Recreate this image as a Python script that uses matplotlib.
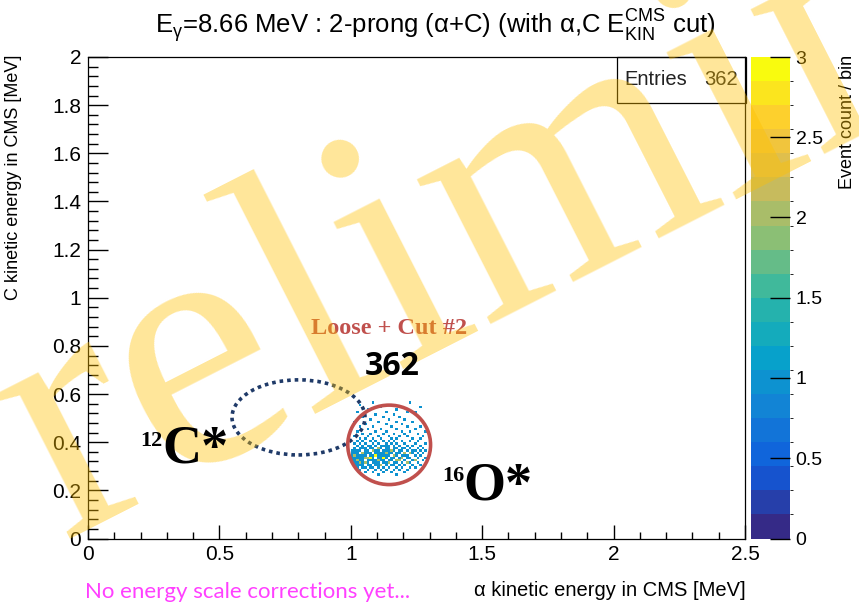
import numpy as np
import matplotlib.pyplot as plt
from matplotlib import font_manager
from matplotlib.colors import LinearSegmentedColormap, BoundaryNorm
from matplotlib.patches import Ellipse, Rectangle
from matplotlib.ticker import MultipleLocator, FuncFormatter

# occupied 10 keV x 10 keV bins, one event each: C energy row -> alpha energies
row_y = [0.56, 0.55, 0.54, 0.53, 0.52, 0.51, 0.50, 0.49, 0.48, 0.47, 0.46,
         0.45, 0.44, 0.43, 0.42, 0.41, 0.40, 0.39, 0.38, 0.37, 0.36, 0.35,
         0.34, 0.33, 0.32, 0.31, 0.30, 0.29, 0.28, 0.27, 0.26]
row_x = [
    [1.08, 1.22],
    [1.03, 1.15],
    [1.11, 1.19, 1.26],
    [1.06, 1.17],
    [1.02, 1.13, 1.21, 1.24],
    [1.09, 1.16],
    [1.04, 1.12, 1.18, 1.25],
    [1.07, 1.14, 1.20],
    [1.01, 1.10, 1.17, 1.23, 1.27],
    [1.05, 1.13, 1.19],
    [1.03, 1.08, 1.15, 1.21, 1.26],
    [1.06, 1.11, 1.17, 1.24],
    [1.02, 1.09, 1.13, 1.19, 1.22, 1.28],
    [1.04, 1.07, 1.12, 1.16, 1.20, 1.25],
    [1.01, 1.06, 1.10, 1.14, 1.18, 1.21, 1.27],
    [1.03, 1.05, 1.08, 1.11, 1.15, 1.17, 1.23, 1.26],
    [1.02, 1.04, 1.07, 1.09, 1.12, 1.14, 1.16, 1.19, 1.22, 1.25],
    [1.01, 1.03, 1.05, 1.08, 1.10, 1.13, 1.15, 1.17, 1.20, 1.24, 1.28],
    [1.02, 1.04, 1.06, 1.07, 1.09, 1.11, 1.12, 1.14, 1.16, 1.18, 1.21, 1.23, 1.26],
    [1.01, 1.03, 1.04, 1.05, 1.07, 1.08, 1.10, 1.11, 1.13, 1.14, 1.16, 1.17,
     1.19, 1.20, 1.22, 1.25, 1.27],
    [1.00, 1.01, 1.02, 1.03, 1.05, 1.06, 1.08, 1.09, 1.10, 1.12, 1.13, 1.15,
     1.16, 1.18, 1.19, 1.21, 1.23, 1.24, 1.26, 1.28],
    [1.00, 1.01, 1.02, 1.04, 1.05, 1.06, 1.07, 1.09, 1.10, 1.11, 1.12, 1.13,
     1.14, 1.15, 1.17, 1.18, 1.20, 1.22, 1.23, 1.25, 1.27],
    [1.00, 1.01, 1.02, 1.03, 1.04, 1.05, 1.07, 1.08, 1.09, 1.10, 1.11, 1.12,
     1.13, 1.14, 1.16, 1.17, 1.19, 1.20, 1.21, 1.24, 1.26],
    [1.00, 1.01, 1.02, 1.03, 1.04, 1.05, 1.06, 1.07, 1.08, 1.10, 1.11, 1.12,
     1.13, 1.15, 1.16, 1.18, 1.19, 1.21, 1.22, 1.25, 1.28],
    [1.00, 1.01, 1.02, 1.03, 1.04, 1.06, 1.07, 1.08, 1.09, 1.10, 1.11, 1.12,
     1.14, 1.15, 1.17, 1.18, 1.20, 1.23, 1.24, 1.27],
    [1.00, 1.01, 1.02, 1.03, 1.04, 1.05, 1.06, 1.08, 1.09, 1.10, 1.12, 1.13,
     1.14, 1.16, 1.17, 1.19, 1.21, 1.22, 1.25],
    [1.01, 1.02, 1.03, 1.04, 1.06, 1.07, 1.09, 1.10, 1.11, 1.13, 1.15, 1.16,
     1.18, 1.20, 1.23, 1.26],
    [1.02, 1.04, 1.05, 1.07, 1.08, 1.10, 1.12, 1.14, 1.17, 1.19, 1.22, 1.24],
    [1.03, 1.06, 1.09, 1.11, 1.13, 1.16, 1.18, 1.21],
    [1.05, 1.08, 1.12, 1.15, 1.20],
    [1.10, 1.17],
]
# additional events landing in already filled bins (2-3 counts per bin)
extra_x = [1.05, 1.09, 1.10, 1.12, 1.13, 1.14, 1.16, 1.02, 1.04, 1.08, 1.11,
           1.17, 1.19, 1.03, 1.06, 1.10, 1.15, 1.20, 1.21, 1.01, 1.13, 1.24,
           1.07, 1.07, 1.12, 1.09, 1.18, 1.05, 1.14, 1.22]
extra_y = [0.33, 0.34, 0.32, 0.33, 0.35, 0.31, 0.34, 0.32, 0.35, 0.36, 0.30,
           0.32, 0.33, 0.31, 0.33, 0.37, 0.36, 0.35, 0.31, 0.34, 0.38, 0.32,
           0.33, 0.33, 0.33, 0.34, 0.32, 0.31, 0.36, 0.35]
n_entries = 362

ev_x = [x + 0.005 for xs in row_x for x in xs] + [x + 0.005 for x in extra_x]
ev_y = [y + 0.005 for y, xs in zip(row_y, row_x) for _ in xs] + [y + 0.005 for y in extra_y]

# ROOT kBird palette
bird_stops = [0.0, 0.125, 0.25, 0.375, 0.5, 0.625, 0.75, 0.875, 1.0]
bird_r = [0.2082, 0.0592, 0.0780, 0.0232, 0.1802, 0.5301, 0.8186, 0.9956, 0.9764]
bird_g = [0.1664, 0.3599, 0.5041, 0.6419, 0.7178, 0.7492, 0.7328, 0.7862, 0.9832]
bird_b = [0.5293, 0.8684, 0.8385, 0.7914, 0.6425, 0.4662, 0.3499, 0.1968, 0.0539]
bird = LinearSegmentedColormap.from_list(
    'bird', list(zip(bird_stops, zip(bird_r, bird_g, bird_b))))
levels = np.linspace(0, 3, 21)
norm = BoundaryNorm(levels, bird.N)

names = {f.name for f in font_manager.fontManager.ttflist}
narrow = 'Liberation Sans Narrow' if 'Liberation Sans Narrow' in names else 'Liberation Sans'
plt.rcParams['font.family'] = 'Liberation Sans'

W, H = 859, 607
fig = plt.figure(figsize=(W / 100, H / 100), dpi=100)
ax = fig.add_axes([88 / W, 1 - 538.5 / H, (745 - 88) / W, 481.5 / H])
cax = fig.add_axes([751 / W, 1 - 538.5 / H, 39 / W, 481.5 / H])

h = ax.hist2d(ev_x, ev_y, bins=[250, 200], range=[[0, 2.5], [0, 2]],
              cmap=bird, norm=norm, cmin=1)
ax.set_xlim(0, 2.5)
ax.set_ylim(0, 2)

fmt = FuncFormatter(lambda v, p: '%g' % v)
ax.xaxis.set_major_locator(MultipleLocator(0.5))
ax.xaxis.set_minor_locator(MultipleLocator(0.1))
ax.yaxis.set_major_locator(MultipleLocator(0.2))
ax.yaxis.set_minor_locator(MultipleLocator(0.04))
ax.xaxis.set_major_formatter(fmt)
ax.yaxis.set_major_formatter(fmt)
ax.tick_params(axis='x', which='major', direction='in', length=10, width=1, labelsize=15, pad=5)
ax.tick_params(axis='x', which='minor', direction='in', length=5, width=1)
ax.tick_params(axis='y', which='major', direction='in', length=14.5, width=1, labelsize=15, pad=5)
ax.tick_params(axis='y', which='minor', direction='in', length=7, width=1)
for s in ax.spines.values():
    s.set_linewidth(0.9)

cb = fig.colorbar(h[3], cax=cax, ticks=[0, 0.5, 1, 1.5, 2, 2.5, 3], format=fmt)
cb.outline.set_visible(False)
cax.tick_params(direction='in', length=14.5, width=1, labelsize=14, pad=4)

# stats box
ax.add_patch(Rectangle((2.013, 1.81), 0.49, 0.19, fill=False, lw=0.9,
                       edgecolor='black', clip_on=False))
ax.text(2.04, 1.905, 'Entries', fontsize=14.5, color='#222222', va='center')
ax.text(2.473, 1.905, '%d' % n_entries, fontsize=14.5, color='#222222',
        va='center', ha='right')

# titles
fig.text(435 / W, 1 - 33 / H,
         r'E$_\mathregular{γ}$=8.66 MeV : 2-prong (α+C) (with α,C '
         r'E$^\mathregular{CMS}_\mathregular{KIN}$ cut)',
         family=narrow, fontsize=18.5, ha='center', va='baseline')
fig.text(14 / W, 1 - 55 / H, 'C kinetic energy in CMS [MeV]', rotation=90,
         fontsize=13, ha='center', va='top')
fig.text(746 / W, 1 - 590 / H, 'α kinetic energy in CMS [MeV]',
         fontsize=14.5, ha='right', va='center')
fig.text(848 / W, 1 - 55 / H, 'Event count / bin', rotation=90,
         fontsize=13, ha='center', va='top')
fig.text(85 / W, 1 - 592 / H, 'No energy scale corrections yet...',
         family='Lato', fontsize=16, color='#FF40FF', va='center')

# slide annotations
ax.add_patch(Ellipse((0.801, 0.503), 0.506, 0.312, fill=False, lw=2.6,
                     edgecolor='#1F3A68', linestyle=(0, (1, 1.1)), clip_on=False))
ax.add_patch(Ellipse((1.146, 0.389), 0.315, 0.33, fill=False, lw=2.6,
                     edgecolor='#C0504D', clip_on=False))
ax.text(1.145, 0.871, 'Loose + Cut #2', family='Liberation Serif',
        fontweight='bold', fontsize=17.5, color='#C0504D',
        ha='center', va='center')

wm = fig.text(-0.130, -0.031, 'Preliminary', family='Liberation Serif',
              fontsize=255, color='#FFC000', alpha=0.4, rotation=27,
              rotation_mode='anchor', ha='left', va='baseline', zorder=10)

top = dict(transform=ax.transData, zorder=12, family='Liberation Serif',
           fontweight='bold', color='black')
fig.text(0.198, 0.385, '12', ha='left', va='baseline', fontsize=16, **top)
fig.text(1.347, 0.239, '16', ha='left', va='baseline', fontsize=16, **top)
fig.text(0.282, 0.385 - 0.07, 'C*', ha='left', va='baseline', fontsize=39, **top)
fig.text(1.427, 0.239 - 0.075, 'O*', ha='left', va='baseline', fontsize=39, **top)
fig.text(1.157, 0.713, '362', transform=ax.transData, zorder=12,
         family='Open Sans', fontweight='bold', fontsize=23,
         ha='center', va='center')

fig.savefig('out.png', dpi=100)
